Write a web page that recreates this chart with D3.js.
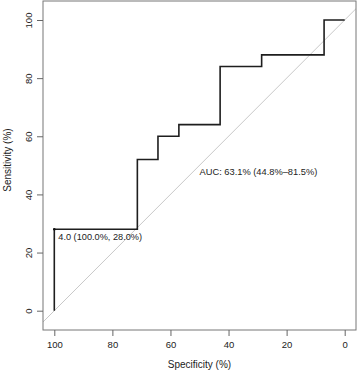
<!DOCTYPE html>
<html>
<head>
<meta charset="utf-8">
<script src="https://cdn.jsdelivr.net/npm/d3@7"></script>
<style>
  body { margin: 0; background: #fff; }
  text { font-family: "Liberation Sans", Arial, sans-serif; fill: #222; }
</style>
</head>
<body>
<div id="chart"></div>
<script>
// ROC curve steps (specificity %, sensitivity %)
var specificity = [100, 100, 71.4, 71.4, 64.3, 64.3, 57.1, 57.1, 42.9, 42.9, 28.6, 28.6, 7.1, 7.1, 0];
var sensitivity = [0, 28, 28, 52, 52, 60, 60, 64, 64, 84, 84, 88, 88, 100, 100];
var xTicks = [100, 80, 60, 40, 20, 0];
var yTicks = [0, 20, 40, 60, 80, 100];
var aucLabel = "AUC: 63.1% (44.8%\u201381.5%)";
var thresLabel = "4.0 (100.0%, 28.0%)";
var thresPoint = { spec: 100, sens: 28 };

var W = 358, H = 371;
var box = { left: 43, right: 356, top: 1, bottom: 330 };

var svg = d3.select("#chart").append("svg")
  .attr("width", W).attr("height", H);

var x = d3.scaleLinear().domain([100, 0]).range([54.3, 344.7]);
var y = d3.scaleLinear().domain([0, 100]).range([310.7, 20]);

// clip to plot box
svg.append("defs").append("clipPath").attr("id", "clip")
  .append("rect")
  .attr("x", box.left).attr("y", box.top)
  .attr("width", box.right - box.left).attr("height", box.bottom - box.top);

var plot = svg.append("g").attr("clip-path", "url(#clip)");

// chance diagonal
plot.append("line")
  .attr("x1", x(110)).attr("y1", y(-10))
  .attr("x2", x(-10)).attr("y2", y(110))
  .attr("stroke", "#c8c8c8").attr("stroke-width", 1);

// ROC curve
var pts = specificity.map(function (s, i) { return [s, sensitivity[i]]; });
plot.append("path")
  .datum(pts)
  .attr("d", d3.line().x(function (d) { return x(d[0]); }).y(function (d) { return y(d[1]); }))
  .attr("fill", "none")
  .attr("stroke", "#1e1e1e")
  .attr("stroke-width", 1.6);

// threshold point + label
plot.append("circle")
  .attr("cx", x(thresPoint.spec)).attr("cy", y(thresPoint.sens))
  .attr("r", 1.3).attr("fill", "#111");
svg.append("text")
  .attr("x", x(thresPoint.spec) + 4).attr("y", y(thresPoint.sens) + 10.5)
  .attr("font-size", 9.2).text(thresLabel);

// AUC text (left/top at 50,50)
svg.append("text")
  .attr("x", x(50)).attr("y", y(50) + 10)
  .attr("font-size", 9.3).text(aucLabel);

// box
svg.append("rect")
  .attr("x", box.left).attr("y", box.top)
  .attr("width", box.right - box.left).attr("height", box.bottom - box.top)
  .attr("fill", "none").attr("stroke", "#777").attr("stroke-width", 1);

// x axis
var xAxis = svg.append("g").attr("transform", "translate(0," + box.bottom + ")")
  .call(d3.axisBottom(x).tickValues(xTicks).tickSize(6).tickPadding(5));
xAxis.select(".domain").remove();
xAxis.selectAll("line").attr("stroke", "#666");
xAxis.selectAll("text").attr("font-size", 9.5).attr("fill", "#222");

// y axis, labels rotated like base R
var yAxis = svg.append("g").attr("transform", "translate(" + box.left + ",0)")
  .call(d3.axisLeft(y).tickValues(yTicks).tickSize(6));
yAxis.select(".domain").remove();
yAxis.selectAll("line").attr("stroke", "#666");
yAxis.selectAll("text")
  .attr("font-size", 9.5).attr("fill", "#222")
  .attr("x", 0).attr("dy", 0)
  .attr("text-anchor", "middle")
  .attr("transform", "translate(-14,0) rotate(-90)")
  .attr("dy", "0.35em");

// axis titles
svg.append("text")
  .attr("x", (box.left + box.right) / 2).attr("y", 368)
  .attr("text-anchor", "middle").attr("font-size", 10)
  .text("Specificity (%)");
svg.append("text")
  .attr("transform", "translate(11,160) rotate(-90)")
  .attr("text-anchor", "middle").attr("font-size", 10)
  .text("Sensitivity (%)");
</script>
</body>
</html>
